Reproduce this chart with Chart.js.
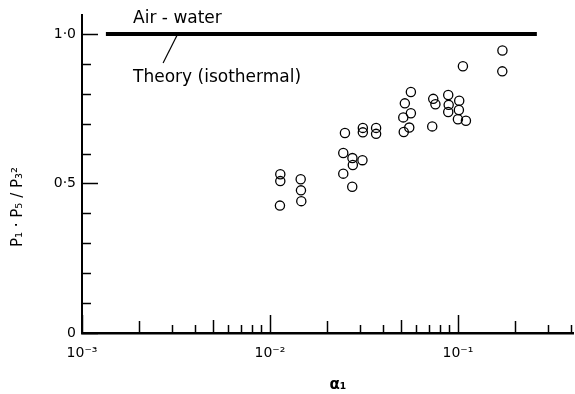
<!DOCTYPE html>
<html>
<head>
<meta charset="utf-8">
<script src="https://cdn.jsdelivr.net/npm/chart.js@4/dist/chart.umd.min.js"></script>
<style>
html, body { margin: 0; padding: 0; background: #fff; overflow: hidden; }
#chart-wrap { width: 575px; height: 394px; overflow: hidden; }
</style>
</head>
<body>
<!-- canvas a bit wider than the page so the x axis runs to the right edge -->
<div id="chart-wrap"><canvas id="chart-ratio" width="579" height="394"></canvas></div>
<script>
// measured points (alpha_1 , P1.P5/P3^2)
var alpha = [0.01135, 0.01135, 0.0113, 0.01457, 0.01462, 0.01468,
    0.02506, 0.02455, 0.02746, 0.03105, 0.0276, 0.02455, 0.0274,
    0.0312, 0.0312, 0.0367, 0.0367,
    0.0562, 0.0522, 0.0562, 0.0512, 0.0551, 0.0515,
    0.0730, 0.0739, 0.0759, 0.0888, 0.0893, 0.0888,
    0.1016, 0.1012, 0.1000, 0.1103, 0.1063, 0.1725, 0.1722];
var ratio = [0.531, 0.508, 0.426, 0.514, 0.477, 0.441,
    0.669, 0.602, 0.585, 0.578, 0.562, 0.533, 0.489,
    0.686, 0.671, 0.686, 0.666,
    0.806, 0.768, 0.735, 0.721, 0.687, 0.672,
    0.691, 0.783, 0.765, 0.796, 0.763, 0.739,
    0.777, 0.746, 0.715, 0.710, 0.892, 0.945, 0.875];

// theory (isothermal), air-water
var theoryAlpha = [0.00134, 0.263];
var theoryRatio = [1.0, 1.0];

// axis ticks
var xTicks = [0.001, 0.002, 0.003, 0.004, 0.005, 0.006, 0.007, 0.008, 0.009,
    0.01, 0.02, 0.03, 0.04, 0.05, 0.06, 0.07, 0.08, 0.09,
    0.1, 0.2, 0.3, 0.4];
var xMajor = [0.001, 0.01, 0.1];
var xMajorLabels = ['10⁻³', '10⁻²', '10⁻¹'];
var yTicks = [0, 0.1, 0.2, 0.3, 0.4, 0.5, 0.6, 0.7, 0.8, 0.9, 1.0];
var yMajor = [0, 0.5, 1.0];
var yMajorLabels = ['0', '0·5', '1·0'];

var FONT = '"DejaVu Sans", sans-serif';

function labelFor(value, majors, labels) {
    for (var i = 0; i < majors.length; i++) {
        if (Math.abs(value - majors[i]) < majors[i] * 1e-6 + 1e-9) return labels[i];
    }
    return '';
}

// inward tick marks, drawn from the scales
var innerTicks = {
    id: 'innerTicks',
    afterDraw: function (chart) {
        var ctx = chart.ctx;
        var xs = chart.scales.x, ys = chart.scales.y;
        var area = chart.chartArea;
        ctx.save();
        ctx.strokeStyle = '#000';
        ctx.lineWidth = 1.5;
        xs.ticks.forEach(function (t) {
            var exp = Math.floor(Math.log10(t.value) + 1e-9);
            var m = Math.round(t.value / Math.pow(10, exp));
            var len = m === 1 ? 18 : (m === 5 ? 13 : (m === 2 ? 12 : 8));
            var px = Math.round(xs.getPixelForValue(t.value)) + 0.5;
            ctx.beginPath();
            ctx.moveTo(px, area.bottom);
            ctx.lineTo(px, area.bottom - len);
            ctx.stroke();
        });
        ys.ticks.forEach(function (t) {
            var len = labelFor(t.value, yMajor, yMajorLabels) !== '' ? 16 : 9;
            var py = Math.round(ys.getPixelForValue(t.value)) + 0.5;
            ctx.beginPath();
            ctx.moveTo(area.left, py);
            ctx.lineTo(area.left + len, py);
            ctx.stroke();
        });
        ctx.restore();
    }
};

// labels, leader line and axis titles
var notes = {
    id: 'notes',
    afterDraw: function (chart) {
        var ctx = chart.ctx;
        var xs = chart.scales.x, ys = chart.scales.y;
        ctx.save();
        ctx.fillStyle = '#000';
        ctx.strokeStyle = '#000';
        ctx.font = '17px ' + FONT;
        ctx.textBaseline = 'middle';
        ctx.textAlign = 'left';
        ctx.fillText('Air - water', xs.getPixelForValue(0.00187), ys.getPixelForValue(1.05));
        ctx.fillText('Theory (isothermal)', xs.getPixelForValue(0.00187), ys.getPixelForValue(0.855));

        // leader from label to line
        ctx.lineWidth = 1.2;
        ctx.beginPath();
        ctx.moveTo(xs.getPixelForValue(0.0032), ys.getPixelForValue(0.995));
        ctx.lineTo(xs.getPixelForValue(0.0027), ys.getPixelForValue(0.903));
        ctx.stroke();

        // axis titles
        ctx.textAlign = 'center';
        ctx.font = 'bold 15px ' + FONT;
        ctx.fillText('α₁', 338, 385);
        ctx.font = '15px ' + FONT;
        ctx.translate(18, 207);
        ctx.rotate(-Math.PI / 2);
        ctx.fillText('P₁ · P₅ / P₃²', 0, 0);
        ctx.restore();
    }
};

var points = [];
for (let i = 0; i < alpha.length; i++) {
    points.push({ x: alpha[i], y: ratio[i] });
}
var theory = [];
for (let i = 0; i < theoryAlpha.length; i++) {
    theory.push({ x: theoryAlpha[i], y: theoryRatio[i] });
}

var ctx = document.getElementById('chart-ratio').getContext('2d');
var chartRatio = new Chart(ctx, {
    type: 'scatter',
    data: {
        datasets: [{
            type: 'line',
            label: 'Air - water',
            data: theory,
            borderColor: '#000',
            borderWidth: 4,
            pointRadius: 0,
            fill: false
        }, {
            label: 'Measured',
            data: points,
            borderColor: '#000',
            backgroundColor: 'rgba(0,0,0,0)',
            borderWidth: 1.3,
            pointRadius: 4.6
        }]
    },
    options: {
        responsive: false,
        animation: false,
        devicePixelRatio: 1,
        layout: { padding: { top: 15, right: 0, left: 0, bottom: 0 } },
        plugins: {
            legend: { display: false },
            tooltip: { enabled: false }
        },
        scales: {
            x: {
                type: 'logarithmic',
                min: 0.001,
                max: 0.41,
                afterBuildTicks: function (scale) {
                    scale.ticks = xTicks.map(function (v) { return { value: v }; });
                },
                afterFit: function (scale) {
                    scale.height = 61;
                    scale.paddingRight = 0;
                    scale.paddingLeft = 0;
                },
                grid: { display: false, drawTicks: false },
                border: { display: true, color: '#000', width: 2.5 },
                ticks: {
                    autoSkip: false,
                    maxRotation: 0,
                    padding: 12,
                    color: '#000',
                    font: { family: FONT, size: 14 },
                    callback: function (value) { return labelFor(value, xMajor, xMajorLabels); }
                }
            },
            y: {
                type: 'linear',
                min: 0,
                max: 1.0635,
                afterBuildTicks: function (scale) {
                    scale.ticks = yTicks.map(function (v) { return { value: v }; });
                },
                afterFit: function (scale) {
                    scale.width = 82;
                    scale.paddingTop = 0;
                    scale.paddingBottom = 0;
                },
                grid: { display: false, drawTicks: false },
                border: { display: true, color: '#000', width: 2 },
                ticks: {
                    autoSkip: false,
                    padding: 6,
                    color: '#000',
                    font: { family: FONT, size: 14 },
                    callback: function (value) { return labelFor(value, yMajor, yMajorLabels); }
                }
            }
        }
    },
    plugins: [innerTicks, notes]
});
</script>
</body>
</html>
